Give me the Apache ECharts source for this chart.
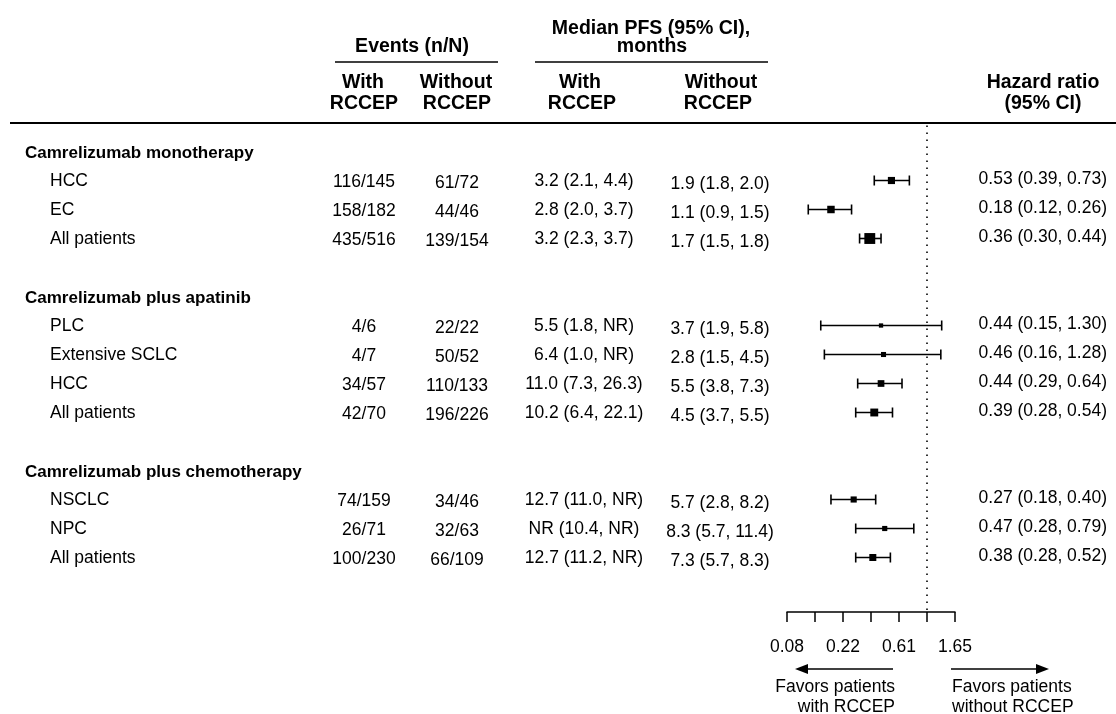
<!DOCTYPE html>
<html>
<head>
<meta charset="utf-8">
<script src="https://cdn.jsdelivr.net/npm/echarts@6/dist/echarts.min.js"></script>
<style>
html,body{margin:0;padding:0;background:#fff;}
#chart{width:1116px;height:714px;}
</style>
</head>
<body>
<div id="chart"></div>
<script>
// ---------------- DATA ----------------
const groups = ['Camrelizumab monotherapy', 'Camrelizumab plus apatinib', 'Camrelizumab plus chemotherapy'];
const subgroups = ['HCC', 'EC', 'All patients', 'PLC', 'Extensive SCLC', 'HCC', 'All patients', 'NSCLC', 'NPC', 'All patients'];
const groupOf = [0, 0, 0, 1, 1, 1, 1, 2, 2, 2];
const eventsWith = ['116/145', '158/182', '435/516', '4/6', '4/7', '34/57', '42/70', '74/159', '26/71', '100/230'];
const eventsWithout = ['61/72', '44/46', '139/154', '22/22', '50/52', '110/133', '196/226', '34/46', '32/63', '66/109'];
const pfsWith = ['3.2 (2.1, 4.4)', '2.8 (2.0, 3.7)', '3.2 (2.3, 3.7)', '5.5 (1.8, NR)', '6.4 (1.0, NR)', '11.0 (7.3, 26.3)', '10.2 (6.4, 22.1)', '12.7 (11.0, NR)', 'NR (10.4, NR)', '12.7 (11.2, NR)'];
const pfsWithout = ['1.9 (1.8, 2.0)', '1.1 (0.9, 1.5)', '1.7 (1.5, 1.8)', '3.7 (1.9, 5.8)', '2.8 (1.5, 4.5)', '5.5 (3.8, 7.3)', '4.5 (3.7, 5.5)', '5.7 (2.8, 8.2)', '8.3 (5.7, 11.4)', '7.3 (5.7, 8.3)'];
const hr = [0.53, 0.18, 0.36, 0.44, 0.46, 0.44, 0.39, 0.27, 0.47, 0.38];
const hrLo = [0.39, 0.12, 0.30, 0.15, 0.16, 0.29, 0.28, 0.18, 0.28, 0.28];
const hrHi = [0.73, 0.26, 0.44, 1.30, 1.28, 0.64, 0.54, 0.40, 0.79, 0.52];
// log-scale axis exponents (tick labels are e^x: 0.08, 0.22, 0.61, 1.65)
const axisLnMin = -2.5, axisLnMax = 0.5, axisLnStep = 0.5;
const refHR = 1;

// ---------------- LAYOUT ----------------
const FONT = '"Liberation Sans", Arial, Helvetica, sans-serif';
const FS = 17.5;
const GRID_TOP = 124, GRID_BOTTOM = 102, ROW_H = 29;
const Y_MIN = -1;
const Y_MAX = (714 - GRID_TOP - GRID_BOTTOM) / ROW_H + Y_MIN;

// row index for each subgroup / group header
const rowK = [];
const headerK = [];
let k = -1, prevG = -1;
subgroups.forEach((s, i) => {
  if (groupOf[i] !== prevG) {
    if (prevG !== -1) k++;            // blank spacer row
    k++; headerK.push(k); prevG = groupOf[i];
  }
  k++; rowK.push(k);
});
const hrText = hr.map((v, i) => v.toFixed(2) + ' (' + hrLo[i].toFixed(2) + ', ' + hrHi[i].toFixed(2) + ')');
const evTotal = eventsWith.map((e, i) => parseInt(e) + parseInt(eventsWithout[i]));

function textSeries(texts, rows, x, align, dy, weight, fs) {
  return {
    type: 'custom', xAxisIndex: 0, yAxisIndex: 0, silent: true,
    data: texts.map((t, i) => [x, rows[i]]),
    renderItem: function (params, api) {
      const p = api.coord([api.value(0), api.value(1)]);
      return {
        type: 'text', x: p[0], y: p[1] + dy,
        style: {
          text: texts[params.dataIndex], fill: '#000',
          fontSize: fs || FS, fontFamily: FONT, fontWeight: weight || 'normal',
          align: align, verticalAlign: 'middle'
        }
      };
    }
  };
}

function gText(text, x, y, opt) {
  opt = opt || {};
  return {
    type: 'text', x: x, y: y, silent: true,
    style: {
      text: text, fill: '#000', fontSize: opt.fs || FS, fontFamily: FONT,
      fontWeight: opt.bold ? 'bold' : 'normal', align: opt.align || 'center', verticalAlign: 'middle'
    }
  };
}
function gLine(x1, y1, x2, y2, w) {
  return { type: 'line', silent: true, shape: { x1: x1, y1: y1, x2: x2, y2: y2 }, style: { stroke: '#000', lineWidth: w || 1.5 } };
}
const HFS = 19.5;

const chart = echarts.init(document.getElementById('chart'), null, { renderer: 'canvas' });
chart.setOption({
  backgroundColor: '#fff',
  animation: false,
  grid: [
    { left: 0, right: 0, top: GRID_TOP, bottom: GRID_BOTTOM },
    { left: 787, width: 168, top: GRID_TOP, bottom: GRID_BOTTOM }
  ],
  xAxis: [
    { type: 'value', gridIndex: 0, min: 0, max: 1116, show: false },
    {
      type: 'value', gridIndex: 1, min: axisLnMin, max: axisLnMax, interval: axisLnStep,
      splitLine: { show: false },
      axisLine: { show: true, onZero: false, lineStyle: { color: '#000', width: 1.5 } },
      axisTick: { show: true, length: 10, lineStyle: { color: '#000', width: 1.5 } },
      axisLabel: {
        show: true, showMinLabel: true, showMaxLabel: true, margin: 26,
        color: '#000', fontSize: FS, fontFamily: FONT,
        formatter: v => (Math.round(v / axisLnStep) % 2 !== 0) ? Math.exp(v).toFixed(2) : ''
      }
    }
  ],
  yAxis: [
    { type: 'value', gridIndex: 0, inverse: true, min: Y_MIN, max: Y_MAX, show: false },
    { type: 'value', gridIndex: 1, inverse: true, min: Y_MIN, max: Y_MAX, show: false }
  ],
  series: [
    textSeries(groups, headerK, 25, 'left', 0, 'bold', 17),
    textSeries(subgroups, rowK, 50, 'left', -1, 'normal'),
    textSeries(eventsWith, rowK, 364, 'center', 0, 'normal'),
    textSeries(eventsWithout, rowK, 457, 'center', 1.5, 'normal'),
    textSeries(pfsWith, rowK, 584, 'center', -1, 'normal'),
    textSeries(pfsWithout, rowK, 720, 'center', 2, 'normal'),
    textSeries(hrText, rowK, 1107, 'right', -2.5, 'normal'),
    {
      type: 'line', xAxisIndex: 1, yAxisIndex: 1, silent: true, symbol: 'none',
      data: [[Math.log(refHR), Y_MIN + 0.05], [Math.log(refHR), Y_MAX]],
      lineStyle: { color: '#000', width: 1.6, type: [1.6, 5.4] }
    },
    {
      type: 'custom', xAxisIndex: 1, yAxisIndex: 1, silent: true,
      data: hr.map((v, i) => [Math.log(v), rowK[i], Math.log(hrLo[i]), Math.log(hrHi[i]), 2.5 + 0.35 * Math.sqrt(evTotal[i])]),
      renderItem: function (params, api) {
        const kk = api.value(1);
        const c = api.coord([api.value(0), kk]);
        const lo = api.coord([api.value(2), kk]);
        const hi = api.coord([api.value(3), kk]);
        const s = api.value(4);
        const y = c[1] - 1.5;
        const st = { stroke: '#000', lineWidth: 1.6 };
        return {
          type: 'group', children: [
            { type: 'line', shape: { x1: lo[0], y1: y, x2: hi[0], y2: y }, style: st },
            { type: 'line', shape: { x1: lo[0], y1: y - 5, x2: lo[0], y2: y + 5 }, style: st },
            { type: 'line', shape: { x1: hi[0], y1: y - 5, x2: hi[0], y2: y + 5 }, style: st },
            { type: 'rect', shape: { x: c[0] - s / 2, y: y - s / 2, width: s, height: s }, style: { fill: '#000' } }
          ]
        };
      }
    }
  ],
  graphic: [
    gText('Median PFS (95% CI),', 651, 29, { bold: true, fs: HFS }),
    gText('months', 652, 47, { bold: true, fs: HFS }),
    gText('Events (n/N)', 412, 47, { bold: true, fs: HFS }),
    gLine(335, 62, 498, 62, 1.6),
    gLine(535, 62, 768, 62, 1.6),
    gText('With', 363, 83, { bold: true, fs: HFS }),
    gText('RCCEP', 364, 104, { bold: true, fs: HFS }),
    gText('Without', 456, 83, { bold: true, fs: HFS }),
    gText('RCCEP', 457, 104, { bold: true, fs: HFS }),
    gText('With', 580, 83, { bold: true, fs: HFS }),
    gText('RCCEP', 582, 104, { bold: true, fs: HFS }),
    gText('Without', 721, 83, { bold: true, fs: HFS }),
    gText('RCCEP', 718, 104, { bold: true, fs: HFS }),
    gText('Hazard ratio', 1043, 83, { bold: true, fs: HFS }),
    gText('(95% CI)', 1043, 104, { bold: true, fs: HFS }),
    gLine(10, 123, 1116, 123, 2.2),
    // arrows
    gLine(806, 669, 893, 669, 1.5),
    { type: 'polygon', silent: true, shape: { points: [[795, 669], [808, 664], [808, 674]] }, style: { fill: '#000' } },
    gLine(951, 669, 1038, 669, 1.5),
    { type: 'polygon', silent: true, shape: { points: [[1049, 669], [1036, 664], [1036, 674]] }, style: { fill: '#000' } },
    gText('Favors patients', 895, 687, { align: 'right' }),
    gText('with RCCEP', 895, 707, { align: 'right' }),
    gText('Favors patients', 952, 687, { align: 'left' }),
    gText('without RCCEP', 952, 707, { align: 'left' })
  ]
});
</script>
</body>
</html>
